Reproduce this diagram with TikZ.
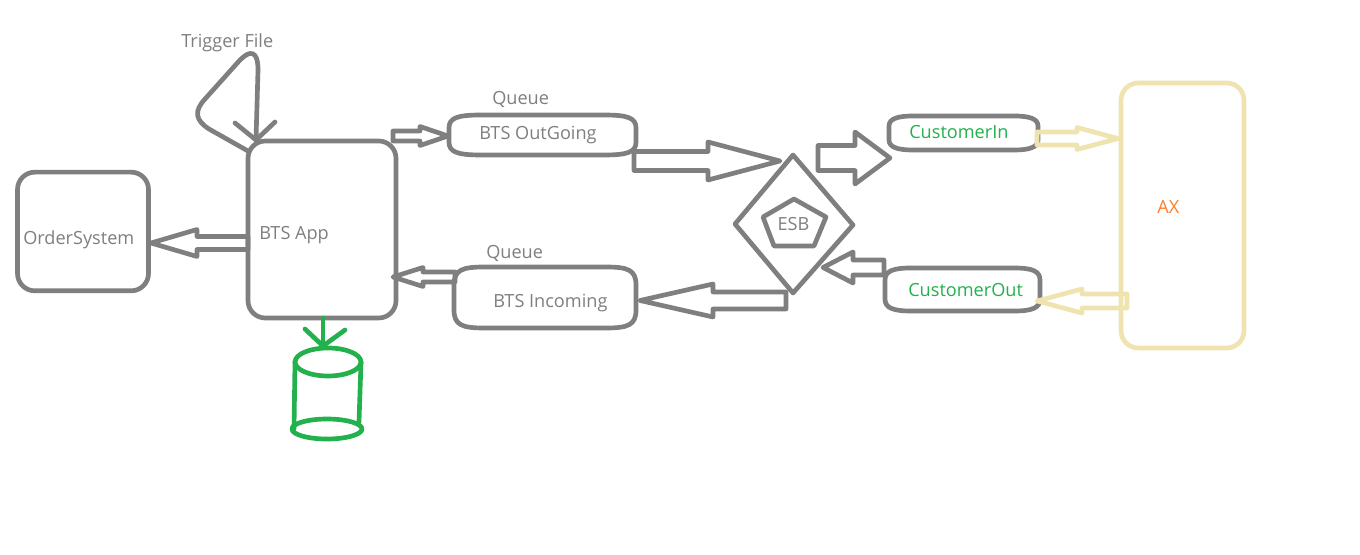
\documentclass[tikz,border=0pt]{standalone}
\usepackage{fontspec}
\setmainfont{Open Sans}
\usetikzlibrary{calc,shapes.geometric}
\definecolor{pgray}{HTML}{7F7F7F}
\definecolor{pgreen}{HTML}{22B14C}
\definecolor{pyellow}{HTML}{EFE4B0}
\definecolor{porange}{HTML}{FF7F27}
\tikzset{
  stroke/.style={draw=pgray,line width=3.5pt,line join=round,line cap=round},
  soft/.style={draw=pyellow,line width=3.5pt,line join=round,line cap=round},
  greenline/.style={draw=pgreen,line width=3.5pt,line join=round,line cap=round},
  box/.style={stroke,rectangle,rounded corners=13pt,inner sep=0pt,outer sep=0pt},
  slot/.style={rectangle,inner sep=0pt,outer sep=0pt},
  label/.style={text=pgray,font=\fontsize{13.6}{15}\selectfont,anchor=west,inner sep=0pt},
  glabel/.style={label,text=pgreen},
}
% block arrow: style, tail, tip, shaft half width, head half width, head length (signed)
\newcommand{\blockarrow}[6]{%
  \draw[#1] ($(#2)+(0,-#4)$) -- ($(#3)+(-#6,-#4)$) -- ($(#3)+(-#6,-#5)$) -- (#3) -- ($(#3)+(-#6,#5)$) -- ($(#3)+(-#6,#4)$) -- ($(#2)+(0,#4)$) -- cycle;}
% queue outline: style, node, corner reach x, corner reach y
\newcommand{\queuebox}[4]{%
  \draw[#1] ($(#2.north west)+(0,#4)$)
    .. controls ($(#2.north west)+(0,3)$) and ($(#2.north west)+(8,0)$) .. ($(#2.north west)+(#3,0)$)
    -- ($(#2.north east)+(-#3,0)$)
    .. controls ($(#2.north east)+(-8,0)$) and ($(#2.north east)+(0,3)$) .. ($(#2.north east)+(0,#4)$)
    -- ($(#2.south east)+(0,-#4)$)
    .. controls ($(#2.south east)+(0,-3)$) and ($(#2.south east)+(-8,0)$) .. ($(#2.south east)+(-#3,0)$)
    -- ($(#2.south west)+(#3,0)$)
    .. controls ($(#2.south west)+(8,0)$) and ($(#2.south west)+(0,-3)$) .. ($(#2.south west)+(0,-#4)$)
    -- cycle;}
\begin{document}
\begin{tikzpicture}[x=0.75pt,y=-0.75pt]
\useasboundingbox (0,0) rectangle (1360,555);
\fill[white] (0,0) rectangle (1360,555);

% main boxes
\node[box,minimum width=98.25pt,minimum height=89pt] (order) at (83,231.5) {};
\node[box,minimum width=111pt,minimum height=132.75pt] (app) at (322,229.5) {};
\node[box,draw=pyellow,minimum width=92.25pt,minimum height=198.75pt] (ax) at (1182.5,215.5) {};

% queue boxes
\node[slot,minimum width=140.25pt,minimum height=30pt] (out) at (542.5,135) {};
\node[slot,minimum width=136.5pt,minimum height=45.75pt] (inc) at (545,297.5) {};
\node[slot,minimum width=111.75pt,minimum height=25.5pt] (cin) at (963.5,133) {};
\node[slot,minimum width=116.25pt,minimum height=32.25pt] (cout) at (962.5,289.5) {};
\queuebox{stroke}{out}{32}{13}
\queuebox{stroke}{inc}{30}{18}
\queuebox{stroke}{cin}{24}{10}
\queuebox{stroke}{cout}{26}{12}

% ESB
\coordinate (esbT) at (793,155);
\coordinate (esbR) at (853,225);
\coordinate (esbB) at (793,293);
\coordinate (esbL) at (735,224);
\draw[stroke] (esbT) -- (esbR) -- (esbB) -- (esbL) -- cycle;
\coordinate (pT) at (794,199);
\coordinate (pR) at (826,217);
\coordinate (pBR) at (814,246);
\coordinate (pBL) at (774,246);
\coordinate (pL) at (763,217);
\draw[stroke] (pT) -- (pR) -- (pBR) -- (pBL) -- (pL) -- cycle;

% arrow ends
\coordinate (a1s) at (393,136);   \coordinate (a1e) at (448,136);
\coordinate (a2s) at (634,161);   \coordinate (a2e) at (780,161);
\coordinate (a3s) at (818,158);   \coordinate (a3e) at (890,158);
\coordinate (a4s) at (1037,138.5);\coordinate (a4e) at (1118,138.5);
\coordinate (a5s) at (1127,301);  \coordinate (a5e) at (1037,301);
\coordinate (a6s) at (884,267.5); \coordinate (a6e) at (823,267.5);
\coordinate (a7s) at (786,300.5); \coordinate (a7e) at (640,300.5);
\coordinate (a8s) at (455,277);   \coordinate (a8e) at (393,277);
\coordinate (a9s) at (248,243);   \coordinate (a9e) at (151,243);

\blockarrow{stroke}{a1s}{a1e}{5}{9.5}{28}
\blockarrow{stroke}{a2s}{a2e}{9.5}{19}{72}
\blockarrow{stroke}{a3s}{a3e}{12.5}{26}{35}
\blockarrow{soft}{a4s}{a4e}{6.5}{11}{41}
\blockarrow{soft}{a5s}{a5e}{7}{12}{-45}
\blockarrow{stroke}{a6s}{a6e}{7.5}{15.5}{-30}
\blockarrow{stroke}{a7s}{a7e}{8.5}{16.5}{-73}
\blockarrow{stroke}{a8s}{a8e}{5}{9.5}{-30}
\blockarrow{stroke}{a9s}{a9e}{6.5}{13.5}{-46}

% trigger loop
\coordinate (trigS) at (248,151);
\coordinate (trigE) at (256,140);
\coordinate (barbL) at (235,123);
\coordinate (barbR) at (275,122);
\draw[stroke] (trigS) -- (209,129) .. controls (195,120) and (194,111) .. (205,99)
  -- (240,60) .. controls (250,50) and (258,50) .. (258,70) -- (trigE);
\draw[stroke] (barbL) -- (trigE) -- (barbR);

% database
\coordinate (dbIn) at (323,318);
\coordinate (dbTip) at (323,346);
\draw[greenline] (dbIn) -- (dbTip);
\draw[greenline] (305,329) -- (dbTip) -- (345,330);
\node[greenline,ellipse,inner sep=0pt,outer sep=0pt,minimum width=49.5pt,minimum height=21pt] (dbtop) at (328,362) {};
\node[greenline,ellipse,inner sep=0pt,outer sep=0pt,minimum width=52.5pt,minimum height=15pt] (dbbot) at (327,429) {};
\draw[greenline] (dbtop.west) -- ($(dbbot.west)+(2,0)$);
\draw[greenline] (dbtop.east) -- ($(dbbot.east)+(-3,-7)$);

% labels
\node[label] (t0) at (181,43) {Trigger File};
\node[label] (t1) at (23,240) {OrderSystem};
\node[label] (t2) at (259,235) {BTS App};
\node[label] (t3) at (492,99) {Queue};
\node[label] (t4) at (479,135) {BTS OutGoing};
\node[label] (t5) at (486,253) {Queue};
\node[label] (t6) at (493,303) {BTS Incoming};
\node[label,anchor=center] (t7) at (793.5,224) {ESB};
\node[glabel] (t8) at (909,132) {CustomerIn};
\node[glabel] (t9) at (908,290) {CustomerOut};
\node[label,text=porange] (t10) at (1157,207) {AX};
\end{tikzpicture}
\end{document}
